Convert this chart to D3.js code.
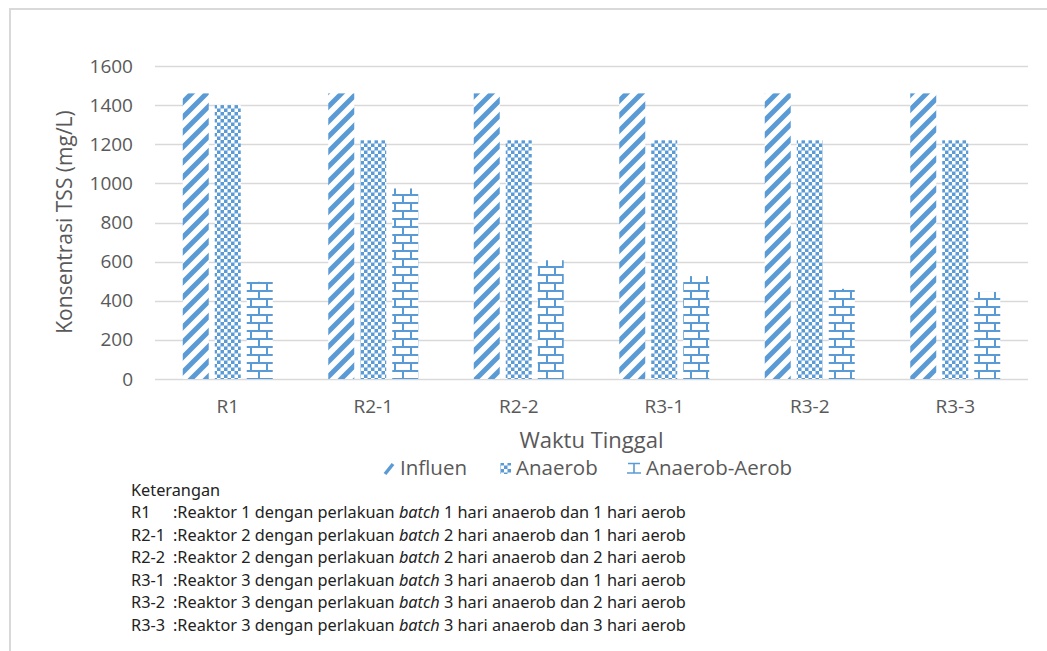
<!DOCTYPE html>
<html>
<head>
<meta charset="utf-8">
<script src="https://cdn.jsdelivr.net/npm/d3@7"></script>
<style>
  html, body { margin: 0; padding: 0; background: #fff; }
  svg { display: block; }
</style>
</head>
<body>
<svg id="chart" width="1047" height="651"></svg>
<script>
// TSS concentration per reactor treatment
const categories = ["R1", "R2-1", "R2-2", "R3-1", "R3-2", "R3-3"];
const seriesNames = ["Influen", "Anaerob", "Anaerob-Aerob"];
const influen = [1460, 1460, 1460, 1460, 1460, 1460];
const anaerob = [1400, 1220, 1220, 1220, 1220, 1220];
const anaerobAerob = [497, 974, 607, 526, 461, 445];
const yTicks = [0, 200, 400, 600, 800, 1000, 1200, 1400, 1600];
const notes = [
  ["R1", "1", "1", "1"],
  ["R2-1", "2", "2", "1"],
  ["R2-2", "2", "2", "2"],
  ["R3-1", "3", "3", "1"],
  ["R3-2", "3", "3", "2"],
  ["R3-3", "3", "3", "3"]
];

const seriesValues = [influen, anaerob, anaerobAerob];
const blue = "#5b9bd5";
const font = "'Open Sans', 'Noto Sans', sans-serif";

const svg = d3.select("#chart");

// chart frame
svg.append("rect")
  .attr("x", 10).attr("y", 9).attr("width", 1100).attr("height", 700)
  .attr("fill", "#fff").attr("stroke", "#d9d9d9").attr("stroke-width", 2);

// fill patterns
const defs = svg.append("defs");

const diag = defs.append("pattern").attr("id", "pat-diag")
  .attr("patternUnits", "userSpaceOnUse").attr("width", 15).attr("height", 15);
diag.append("rect").attr("width", 15).attr("height", 15).attr("fill", "#fff");
diag.append("path")
  .attr("d", "M-4,19 L19,-4 M-4,4 L4,-4 M11,19 L19,11")
  .attr("stroke", blue).attr("stroke-width", 5);

const check = defs.append("pattern").attr("id", "pat-check")
  .attr("patternUnits", "userSpaceOnUse").attr("width", 7).attr("height", 7);
check.append("rect").attr("width", 7).attr("height", 7).attr("fill", blue);
check.append("rect").attr("x", 0).attr("y", 0).attr("width", 3.5).attr("height", 3.5).attr("fill", "#fff");
check.append("rect").attr("x", 3.5).attr("y", 3.5).attr("width", 3.5).attr("height", 3.5).attr("fill", "#fff");

const brick = defs.append("pattern").attr("id", "pat-brick")
  .attr("patternUnits", "userSpaceOnUse").attr("width", 16).attr("height", 16)
  .attr("y", 2);
brick.append("rect").attr("width", 16).attr("height", 16).attr("fill", "#fff");
brick.append("path")
  .attr("d", "M0,1 H16 M0,9 H16 M3,1 V9 M11,9 V16")
  .attr("stroke", blue).attr("stroke-width", 2).attr("fill", "none");

const fills = ["url(#pat-diag)", "url(#pat-check)", "url(#pat-brick)"];

// plot area
const plot = { left: 155, right: 1028, top: 66, bottom: 379 };

const x = d3.scaleBand().domain(categories).range([plot.left, plot.right]).padding(0);
const xs = d3.scaleBand().domain(seriesNames).range([-45, 45]).paddingInner(6 / 32).paddingOuter(0);
const y = d3.scaleLinear().domain([0, 1600]).range([plot.bottom, plot.top]);

// gridlines
svg.append("g").selectAll("line").data(yTicks).join("line")
  .attr("x1", plot.left).attr("x2", plot.right)
  .attr("y1", d => Math.round(y(d)) + 0.5).attr("y2", d => Math.round(y(d)) + 0.5)
  .attr("stroke", "#d9d9d9").attr("stroke-width", 1.3);

// y axis labels
const yAxis = d3.axisLeft(y).tickValues(yTicks).tickSize(0).tickPadding(0).tickFormat(d3.format("d"));
const yg = svg.append("g").attr("transform", `translate(${plot.left - 22},0)`).call(yAxis);
yg.select(".domain").remove();
yg.selectAll("text").attr("font-family", font).attr("font-size", 19).attr("fill", "#595959");

// bars
const groups = svg.append("g").selectAll("g").data(seriesNames).join("g");
groups.each(function(name, si) {
  d3.select(this).selectAll("rect").data(categories).join("rect")
    .attr("x", c => x(c) + x.bandwidth() / 2 + xs(name))
    .attr("width", xs.bandwidth())
    .attr("y", (c, i) => y(seriesValues[si][i]))
    .attr("height", (c, i) => y(0) - y(seriesValues[si][i]))
    .attr("fill", fills[si]);
});

// x axis labels
const xAxis = d3.axisBottom(x).tickSize(0).tickPadding(0);
const xg = svg.append("g").attr("transform", `translate(0,${plot.bottom + 23})`).call(xAxis);
xg.select(".domain").remove();
xg.selectAll("text").attr("font-family", font).attr("font-size", 19).attr("fill", "#595959")
  .attr("dy", "0.6em");

// axis titles
svg.append("text")
  .attr("x", (plot.left + plot.right) / 2).attr("y", 448)
  .attr("text-anchor", "middle").attr("font-family", font).attr("font-size", 22)
  .attr("fill", "#595959").text("Waktu Tinggal");

svg.append("text")
  .attr("transform", `translate(72,222) rotate(-90)`)
  .attr("text-anchor", "middle").attr("font-family", font).attr("font-size", 21)
  .attr("fill", "#595959").text("Konsentrasi TSS (mg/L)");

// legend
const legendX = [384, 500, 627];
const legendTextX = [400, 516, 646];
const legend = svg.append("g").selectAll("g").data(seriesNames).join("g");
// Influen key: a single thick slash
legend.filter((d, i) => i === 0).append("path")
  .attr("d", "M385,474 L393,464").attr("stroke", blue).attr("stroke-width", 3.5);
// Anaerob key: small checker square
legend.filter((d, i) => i === 1).append("rect")
  .attr("x", 500).attr("y", 463).attr("width", 11).attr("height", 11).attr("fill", "url(#pat-check)");
// Anaerob-Aerob key: brick fragment
legend.filter((d, i) => i === 2).append("path")
  .attr("d", "M628,463.5 H640 M634,463.5 V473 M627,473 H641")
  .attr("stroke", blue).attr("stroke-width", 1.6).attr("fill", "none");
legend.append("text").attr("x", (d, i) => legendTextX[i]).attr("y", 475)
  .attr("font-family", font).attr("font-size", 20.5).attr("fill", "#595959")
  .text(d => d);

// notes below chart
const noteFont = "'Noto Sans', sans-serif";
const noteSize = 16.3;
svg.append("text").attr("x", 131).attr("y", 496)
  .attr("font-family", noteFont).attr("font-size", noteSize).attr("fill", "#222")
  .text("Keterangan");
const noteRows = svg.append("g").selectAll("g").data(notes).join("g")
  .attr("transform", (d, i) => `translate(0,${518 + i * 22.6})`);
noteRows.append("text").attr("x", 131).attr("font-family", noteFont).attr("font-size", noteSize)
  .attr("fill", "#222").text(d => d[0]);
const line = noteRows.append("text").attr("x", 173).attr("font-family", noteFont)
  .attr("font-size", noteSize).attr("fill", "#222");
line.append("tspan").text(d => `:Reaktor ${d[1]} dengan perlakuan `);
line.append("tspan").attr("font-style", "italic").text("batch");
line.append("tspan").text(d => ` ${d[2]} hari anaerob dan ${d[3]} hari aerob`);
</script>
</body>
</html>
